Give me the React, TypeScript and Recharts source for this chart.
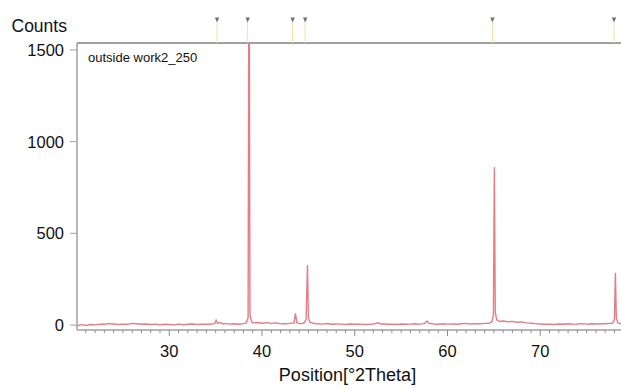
import React from 'react';
import { LineChart, Line, XAxis, YAxis, ReferenceLine, ReferenceDot } from 'recharts';

// scan positions (°2Theta) and measured counts
const twoTheta = [
  20.1, 20.5, 21.0, 21.5, 22.0, 22.5, 23.0, 23.5, 24.0, 24.5, 25.0, 25.5, 26.0, 26.5, 27.0, 27.5,
  28.0, 28.5, 29.0, 29.5, 30.0, 30.5, 31.0, 31.5, 32.0, 32.5, 33.0, 33.5, 34.0, 34.5, 34.9, 35.05,
  35.2, 35.5, 35.8, 36.0, 36.5, 37.0, 37.5, 38.0, 38.3, 38.5, 38.6, 38.7, 38.85, 39.0, 39.5, 40.0,
  40.5, 41.0, 41.5, 42.0, 42.5, 43.0, 43.45, 43.6, 43.75, 44.0, 44.5, 44.75, 44.9, 45.0, 45.15, 45.5,
  46.0, 46.5, 47.0, 47.5, 48.0, 48.5, 49.0, 49.5, 50.0, 50.5, 51.0, 51.5, 52.0, 52.5, 52.8, 53.0,
  53.5, 54.0, 54.5, 55.0, 55.5, 56.0, 56.5, 57.0, 57.5, 57.8, 58.0, 58.5, 59.0, 59.5, 60.0, 60.5,
  61.0, 61.5, 62.0, 62.5, 63.0, 63.5, 64.0, 64.5, 64.8, 64.95, 65.05, 65.15, 65.3, 65.6, 66.0, 66.5,
  67.0, 67.5, 68.0, 68.5, 69.0, 69.5, 70.0, 70.5, 71.0, 71.5, 72.0, 72.5, 73.0, 73.5, 74.0, 74.5,
  75.0, 75.5, 76.0, 76.5, 77.0, 77.5, 77.8, 78.0, 78.1, 78.2, 78.35, 78.6, 79.0, 79.5, 80.0,
];
const counts = [
  -4, 2, -2, 3, 1, 5, 4, 8, 6, 3, 5, 4, 9, 7, 4, 6,
  3, 5, 2, 4, 3, 1, 5, 2, 4, 6, 3, 5, 4, 6, 8, 26,
  10, 14, 6, 9, 5, 7, 4, 8, 12, 40, 2400, 60, 22, 12, 14, 10,
  13, 9, 12, 8, 7, 9, 12, 64, 14, 8, 10, 30, 327, 40, 16, 10,
  7, 5, 8, 4, 6, 5, 3, 6, 4, 5, 3, 4, 6, 12, 5, 7,
  4, 5, 3, 6, 4, 5, 7, 5, 8, 22, 9, 6, 4, 7, 5, 6,
  4, 7, 9, 6, 8, 7, 9, 10, 18, 60, 860, 70, 28, 20, 22, 18,
  20, 15, 17, 12, 10, 8, 6, 4, 5, 3, 6, 4, 7, 5, 6, 8,
  5, 7, 6, 8, 7, 9, 10, 30, 285, 40, 12, 8, 6, 7, 5,
];

// reference pattern positions shown above the plot
const refPeaks = [35.15, 38.45, 43.3, 44.65, 64.85, 77.95];

const yTicks = [0, 500, 1000, 1500];
const majorX = [30, 40, 50, 60, 70, 80];
const labelledX = [30, 40, 50, 60, 70];
const minorX = Array.from({ length: 60 }, (_, i) => 21 + i);

const data = twoTheta.map((x, i) => ({ x, y: counts[i] }));

const FONT = '"Liberation Sans", Arial, sans-serif';
const AXIS = '#a0a0a0';
const Y_MAX = 1538;

const XTick = (props: any) => {
  const { x, y, payload } = props;
  const major = majorX.includes(payload.value);
  return (
    <g>
      <line x1={x} x2={x} y1={y} y2={y + (major ? 6 : 3)} stroke="#8c8c8c" strokeWidth={1} />
      {labelledX.includes(payload.value) && (
        <text x={x} y={y + 27} textAnchor="middle" fontSize={16.5} fill="#111" fontFamily={FONT}>
          {payload.value}
        </text>
      )}
    </g>
  );
};

const Marker = (props: any) => {
  const { cx, cy } = props;
  return (
    <path
      d={`M${cx - 2.2},${cy - 2.5} L${cx + 2.2},${cy - 2.5} L${cx},${cy + 2.5} Z`}
      fill="#6f6f6f"
    />
  );
};

export default function App() {
  return (
    <div style={{ position: 'absolute', left: 0, top: 0, width: 621, height: 390, overflow: 'hidden', background: '#fff' }}>
      <LineChart width={680} height={390} data={data} margin={{ top: 43, right: 47, bottom: 0, left: 0 }}>
        <XAxis
          type="number"
          dataKey="x"
          domain={[20.05, 80]}
          allowDataOverflow
          ticks={minorX}
          interval={0}
          tick={<XTick />}
          tickLine={false}
          tickSize={0}
          tickMargin={0}
          height={60}
          axisLine={{ stroke: AXIS, strokeWidth: 1.5 }}
        />
        <YAxis
          type="number"
          domain={[-27, Y_MAX]}
          allowDataOverflow
          ticks={yTicks}
          interval={0}
          width={77}
          tickSize={7}
          tickMargin={6}
          tickLine={{ stroke: AXIS }}
          axisLine={{ stroke: AXIS, strokeWidth: 1.5 }}
          tick={{ fill: '#111', fontSize: 16.5, fontFamily: FONT }}
        />
        <ReferenceLine y={Y_MAX} stroke={AXIS} strokeWidth={2} ifOverflow="visible" />
        {refPeaks.map(p => (
          <ReferenceLine
            key={`l${p}`}
            segment={[{ x: p, y: Y_MAX }, { x: p, y: 1650 }]}
            stroke="#efe0a6"
            strokeWidth={1}
            ifOverflow="visible"
          />
        ))}
        {refPeaks.map(p => (
          <ReferenceDot key={`d${p}`} x={p} y={1664} ifOverflow="visible" shape={<Marker />} />
        ))}
        <Line
          type="linear"
          dataKey="y"
          stroke="#e67c86"
          strokeWidth={1.4}
          dot={false}
          isAnimationActive={false}
        />
        <text x={11.5} y={32} fontSize={17.5} fill="#111" fontFamily={FONT}>Counts</text>
        <text x={88} y={62} fontSize={13} fill="#111" fontFamily={FONT}>outside work2_250</text>
        <text x={347.5} y={381} fontSize={18} fill="#111" fontFamily={FONT} textAnchor="middle">Position[°2Theta]</text>
      </LineChart>
    </div>
  );
}
